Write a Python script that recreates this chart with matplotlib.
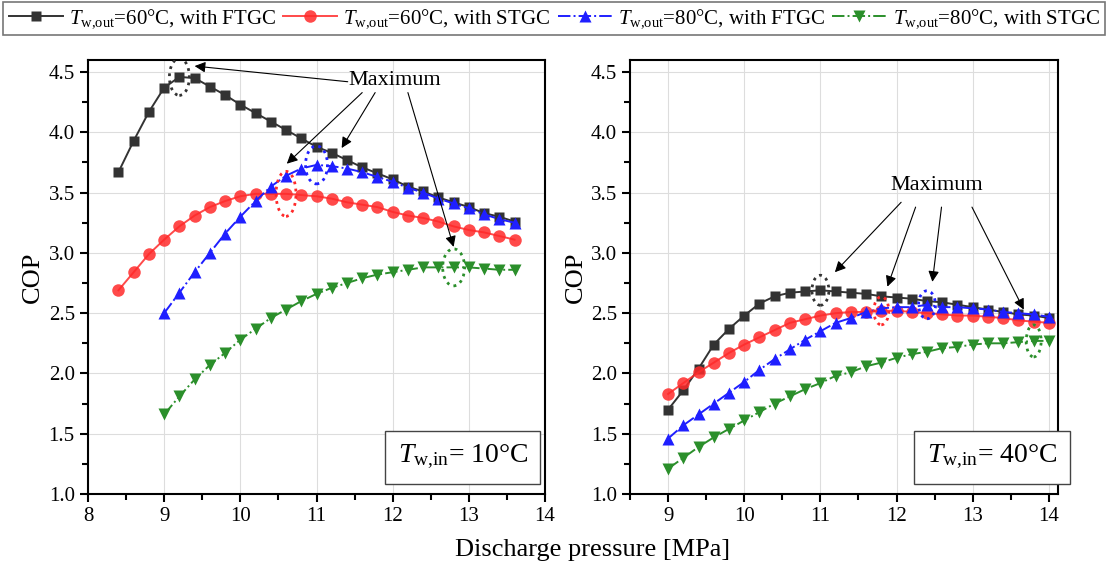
"""COP vs discharge pressure for FTGC / STGC at two inlet water temperatures."""
import matplotlib

matplotlib.use("Agg")
import matplotlib.pyplot as plt
from matplotlib.patches import Ellipse
from matplotlib.ticker import MultipleLocator

plt.rcParams["font.family"] = ["Liberation Serif", "DejaVu Serif"]
plt.rcParams["mathtext.fontset"] = "custom"
plt.rcParams["mathtext.rm"] = "Liberation Serif"
plt.rcParams["mathtext.it"] = "Liberation Serif:italic"

# ---- T_w,in = 10 C -------------------------------------------------------
p10_60 = [8.4, 8.6, 8.8, 9.0, 9.2, 9.4, 9.6, 9.8, 10.0, 10.2, 10.4, 10.6, 10.8,
          11.0, 11.2, 11.4, 11.6, 11.8, 12.0, 12.2, 12.4, 12.6, 12.8, 13.0,
          13.2, 13.4, 13.6]
cop10_60_ftgc = [3.67, 3.93, 4.17, 4.37, 4.46, 4.45, 4.38, 4.31, 4.23, 4.16,
                 4.09, 4.02, 3.95, 3.88, 3.83, 3.77, 3.71, 3.66, 3.61, 3.55,
                 3.51, 3.46, 3.42, 3.38, 3.33, 3.30, 3.26]
cop10_60_stgc = [2.69, 2.84, 2.99, 3.11, 3.22, 3.31, 3.38, 3.43, 3.47, 3.49,
                 3.49, 3.49, 3.48, 3.47, 3.45, 3.42, 3.40, 3.38, 3.34, 3.31,
                 3.29, 3.26, 3.22, 3.19, 3.17, 3.14, 3.11]
p10_80 = [9.0, 9.2, 9.4, 9.6, 9.8, 10.0, 10.2, 10.4, 10.6, 10.8, 11.0, 11.2,
          11.4, 11.6, 11.8, 12.0, 12.2, 12.4, 12.6, 12.8, 13.0, 13.2, 13.4, 13.6]
cop10_80_ftgc = [2.50, 2.67, 2.84, 3.00, 3.16, 3.30, 3.43, 3.55, 3.64, 3.70,
                 3.73, 3.72, 3.70, 3.67, 3.63, 3.59, 3.54, 3.50, 3.45, 3.41,
                 3.37, 3.32, 3.28, 3.25]
cop10_80_stgc = [1.66, 1.81, 1.95, 2.07, 2.17, 2.28, 2.37, 2.46, 2.53, 2.60,
                 2.66, 2.71, 2.75, 2.79, 2.82, 2.84, 2.86, 2.88, 2.88, 2.88,
                 2.88, 2.87, 2.86, 2.86]
peak10 = [9.2, 10.6, 11.0, 12.8]

# ---- T_w,in = 40 C -------------------------------------------------------
p40 = [9.0, 9.2, 9.4, 9.6, 9.8, 10.0, 10.2, 10.4, 10.6, 10.8, 11.0, 11.2,
       11.4, 11.6, 11.8, 12.0, 12.2, 12.4, 12.6, 12.8, 13.0, 13.2, 13.4, 13.6,
       13.8, 14.0]
cop40_60_ftgc = [1.70, 1.86, 2.04, 2.24, 2.37, 2.48, 2.58, 2.64, 2.67, 2.68,
                 2.69, 2.68, 2.67, 2.66, 2.64, 2.63, 2.62, 2.60, 2.59, 2.57,
                 2.55, 2.53, 2.51, 2.49, 2.48, 2.46]
cop40_60_stgc = [1.83, 1.92, 2.01, 2.09, 2.17, 2.24, 2.30, 2.36, 2.42, 2.45,
                 2.48, 2.50, 2.51, 2.51, 2.52, 2.52, 2.51, 2.50, 2.49, 2.48,
                 2.48, 2.47, 2.46, 2.44, 2.43, 2.42]
cop40_80_ftgc = [1.46, 1.57, 1.66, 1.75, 1.84, 1.93, 2.03, 2.12, 2.20, 2.28,
                 2.35, 2.42, 2.46, 2.51, 2.54, 2.55, 2.55, 2.57, 2.55, 2.55,
                 2.54, 2.53, 2.51, 2.50, 2.49, 2.47]
cop40_80_stgc = [1.21, 1.30, 1.39, 1.47, 1.54, 1.61, 1.68, 1.75, 1.81, 1.87,
                 1.92, 1.98, 2.01, 2.06, 2.09, 2.13, 2.16, 2.18, 2.21, 2.22,
                 2.24, 2.25, 2.25, 2.26, 2.27, 2.27]
peak40 = [11.0, 11.8, 12.4, 13.8]

labels = [r"$T_{\mathrm{w{,}out}}$=60°C, with FTGC",
          r"$T_{\mathrm{w{,}out}}$=60°C, with STGC",
          r"$T_{\mathrm{w{,}out}}$=80°C, with FTGC",
          r"$T_{\mathrm{w{,}out}}$=80°C, with STGC"]
colors = ["#333333", "#ff2a2a", "#1f1fff", "#2b8f2b"]
markers = ["s", "o", "^", "v"]
styles = ["-", "-", "-.", "-."]
msizes = [7.5, 9, 9, 9]


def draw_panel(ax, series, peaks, ell_px, text_xy, arrows, box_label, box_x):
    for i, (p, cop) in enumerate(series):
        ax.plot(p, cop, color=colors[i], marker=markers[i], ms=msizes[i],
                ls=styles[i], lw=1.4, mec="none",
                alpha=0.85 if i == 1 else 1.0, label=labels[i])
    # dotted ellipse round each maximum (size given in pixels)
    for i, (p, cop) in enumerate(series):
        x0 = peaks[i]
        y0 = cop[p.index(x0)]
        w, h = ell_px[i]
        ax.add_patch(Ellipse((x0, y0), w / 76.4, h / 120.6, fill=False,
                             ec=colors[i], ls=(0, (1, 1.6)), lw=2.0,
                             zorder=6))
    ax.text(*text_xy, "Maximum", fontsize=16, ha="center", va="center")
    for tail, head in arrows:
        ax.annotate("", xy=head, xytext=tail,
                    arrowprops=dict(arrowstyle="-|>", color="black", lw=0.8,
                                    mutation_scale=16, shrinkA=0, shrinkB=0))
    ax.text(box_x, 0.085, box_label, transform=ax.transAxes, fontsize=20,
            ha="center", va="center",
            bbox=dict(boxstyle="square,pad=0.45", fc="white", ec="#444444",
                      lw=1.0))

    ax.set_ylim(1.0, 4.6)
    ax.yaxis.set_major_locator(MultipleLocator(0.5))
    ax.yaxis.set_minor_locator(MultipleLocator(0.25))
    ax.xaxis.set_major_locator(MultipleLocator(1))
    ax.xaxis.set_minor_locator(MultipleLocator(0.5))
    ax.yaxis.set_major_formatter(plt.FormatStrFormatter("%.1f"))
    ax.grid(True, which="major", color="#dddddd", lw=0.8)
    ax.set_axisbelow(True)
    ax.tick_params(which="both", direction="out", width=1.5, labelsize=15)
    ax.tick_params(which="major", length=6)
    ax.tick_params(which="minor", length=4)
    for s in ax.spines.values():
        s.set_linewidth(1.5)
    ax.set_ylabel("COP", fontsize=19, labelpad=3)


fig = plt.figure(figsize=(11.08, 5.69), dpi=100)
ax1 = fig.add_axes([0.0794, 0.1318, 0.4125, 0.7627])
ax2 = fig.add_axes([0.5686, 0.1318, 0.3863, 0.7627])

draw_panel(
    ax1,
    [(p10_60, cop10_60_ftgc), (p10_60, cop10_60_stgc),
     (p10_80, cop10_80_ftgc), (p10_80, cop10_80_stgc)],
    peak10,
    [(20, 37), (20, 45), (22, 38), (22, 37)],
    (12.03, 4.43),
    [((11.41, 4.42), (9.40, 4.55)),
     ((11.60, 4.33), (10.61, 3.74)),
     ((11.77, 4.33), (11.33, 3.87)),
     ((12.20, 4.33), (12.80, 3.05))],
    r"$T_{\mathrm{w{,}in}}$= 10°C", 0.82,
)
ax1.set_xlim(8, 14)

draw_panel(
    ax2,
    [(p40, cop40_60_ftgc), (p40, cop40_60_stgc),
     (p40, cop40_80_ftgc), (p40, cop40_80_stgc)],
    peak40,
    [(17, 30), (15, 28), (17, 28), (15, 32)],
    (12.53, 3.56),
    [((12.06, 3.42), (11.19, 2.84)),
     ((12.25, 3.38), (11.88, 2.72)),
     ((12.59, 3.38), (12.47, 2.76)),
     ((12.99, 3.38), (13.67, 2.53))],
    r"$T_{\mathrm{w{,}in}}$= 40°C", 0.846,
)
ax2.set_xlim(8.5, 14.12)

fig.text(0.535, 0.033, "Discharge pressure [MPa]", fontsize=19,
         ha="center", va="center")

handles, labs = ax1.get_legend_handles_labels()
leg = fig.legend(handles, labs, loc="upper center", ncol=4,
                 bbox_to_anchor=(0.5, 0.997), fontsize=15, frameon=True,
                 fancybox=False, edgecolor="#555555", handlelength=2.6,
                 handletextpad=0.3, columnspacing=0.35, borderpad=0.25,
                 borderaxespad=0.0)
leg.get_frame().set_linewidth(1.2)

fig.savefig("out.png", dpi=100)
